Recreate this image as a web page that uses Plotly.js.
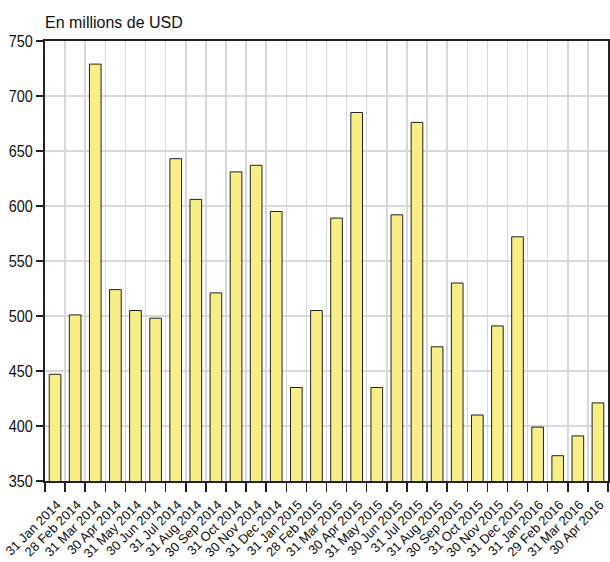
<!DOCTYPE html>
<html><head><meta charset="utf-8">
<script src="https://cdn.plot.ly/plotly-3.0.1.min.js"></script>
<style>body{margin:0;padding:0;background:#fff}#chart{width:610px;height:562px}</style>
</head><body><div id="chart"></div>
<script>
const months = ["31 Jan 2014","28 Feb 2014","31 Mar 2014","30 Apr 2014","31 May 2014","30 Jun 2014","31 Jul 2014","31 Aug 2014","30 Sep 2014","31 Oct 2014","30 Nov 2014","31 Dec 2014","31 Jan 2015","28 Feb 2015","31 Mar 2015","30 Apr 2015","31 May 2015","30 Jun 2015","31 Jul 2015","31 Aug 2015","30 Sep 2015","31 Oct 2015","30 Nov 2015","31 Dec 2015","31 Jan 2016","29 Feb 2016","31 Mar 2016","30 Apr 2016"];
const values = [447,501,729,524,505,498,643,606,521,631,637,595,435,505,589,685,435,592,676,472,530,410,491,572,399,373,391,421];
const yTicks = [350,400,450,500,550,600,650,700,750];
const unitLabel = "En millions de USD";

const fontFam = "'Liberation Sans', Arial, sans-serif";
Plotly.newPlot('chart', [{
  type:'bar', x: months, y: values,
  marker:{color:'#f7ef85', line:{color:'#222', width:1}},
  width:0.58, hoverinfo:'skip'
}], {
  width:610, height:562,
  margin:{l:45, r:2, t:41, b:81},
  paper_bgcolor:'#fff', plot_bgcolor:'#fff',
  showlegend:false,
  font:{family:fontFam, color:'#111'},
  xaxis:{type:'category', tickson:'boundaries', ticks:'outside', ticklen:9, tickcolor:'#222', tickwidth:1.5,
    showgrid:true, gridcolor:'#d8d8d8', gridwidth:1.5, showline:true, linecolor:'#222', linewidth:2, mirror:true,
    tickangle:-45, tickfont:{size:13, family:fontFam}, automargin:false, ticklabelshift:2, ticklabelstandoff:9},
  yaxis:{range:[350,750], tickvals:yTicks, ticks:'outside', ticklen:7, tickcolor:'#222', tickwidth:1.5,
    showgrid:true, gridcolor:'#d8d8d8', gridwidth:1.5, showline:true, linecolor:'#222', linewidth:2, mirror:true,
    tickfont:{size:16, family:fontFam}, zeroline:false, automargin:false},
  annotations:[{text:unitLabel, xref:'paper', yref:'paper', x:-0.004, y:1, xanchor:'left', yanchor:'bottom', yshift:8,
    showarrow:false, font:{size:16, family:fontFam, color:'#111'}}]
}, {staticPlot:true}).then(gd => {
  // slightly condensed digits like the original typeface
  gd.querySelectorAll('.ytick text').forEach(t => {
    const L = t.getComputedTextLength();
    t.setAttribute('textLength', (L*0.9).toFixed(1));
    t.setAttribute('lengthAdjust', 'spacingAndGlyphs');
  });
});
</script></body></html>
